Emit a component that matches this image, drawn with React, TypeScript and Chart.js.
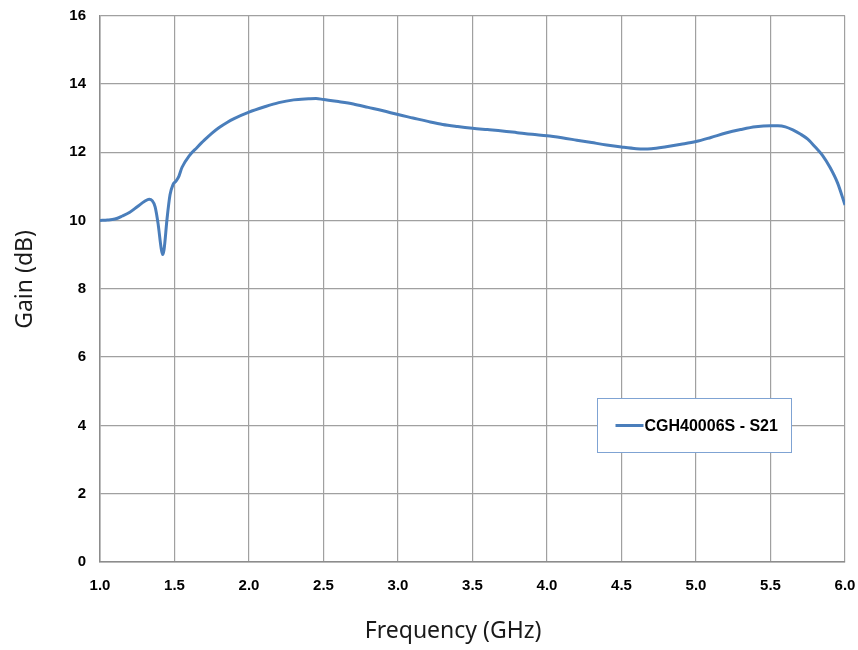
import React, { useEffect, useRef } from "react";
import { Chart, registerables } from "chart.js";

Chart.register(...registerables);

const frequencies = [
  1.0, 1.05, 1.1, 1.15, 1.2, 1.25, 1.3, 1.33, 1.35, 1.37, 1.39, 1.41, 1.42, 1.43, 1.45, 1.47, 1.49,
  1.51, 1.53, 1.55, 1.6, 1.65, 1.7, 1.75, 1.8, 1.85, 1.9, 2.0, 2.1, 2.2, 2.3, 2.4, 2.45, 2.5, 2.6,
  2.7, 2.8, 2.9, 3.0, 3.1, 3.2, 3.3, 3.4, 3.5, 3.6, 3.7, 3.8, 3.9, 4.0, 4.1, 4.2, 4.3, 4.4, 4.5,
  4.6, 4.65, 4.7, 4.8, 4.9, 5.0, 5.1, 5.2, 5.3, 5.4, 5.5, 5.55, 5.6, 5.65, 5.7, 5.75, 5.8, 5.85,
  5.9, 5.95, 6.0,
];

const gainS21 = [
  10.0, 10.01, 10.04, 10.13, 10.24, 10.4, 10.56, 10.62, 10.58, 10.4, 9.9, 9.2, 9.0, 9.15, 10.05,
  10.75, 11.05, 11.15, 11.3, 11.55, 11.9, 12.13, 12.35, 12.55, 12.72, 12.86, 12.98, 13.17, 13.32,
  13.45, 13.53, 13.56, 13.57, 13.54, 13.48, 13.41, 13.31, 13.21, 13.1, 13.0, 12.9, 12.81, 12.75,
  12.7, 12.66, 12.62, 12.57, 12.52, 12.48, 12.42, 12.35, 12.28, 12.21, 12.15, 12.1, 12.09, 12.1,
  12.16, 12.23, 12.31, 12.43, 12.56, 12.66, 12.74, 12.77, 12.77, 12.74, 12.65, 12.53, 12.38, 12.15,
  11.9, 11.55, 11.1, 10.45,
];

const seriesLabel = "CGH40006S - S21";
const xTitle = "Frequency (GHz)";
const yTitle = "Gain (dB)";
const xMin = 1.0;
const xMax = 6.0;
const xStep = 0.5;
const yMin = 0;
const yMax = 16;
const yStep = 2;

const LINE_COLOR = "#4a7ebb";

const overlayPlugin = {
  id: "overlay",
  afterDraw(chart: any) {
    const { ctx, chartArea: ca } = chart;
    ctx.save();
    // axis titles
    ctx.fillStyle = "#1a1a1a";
    ctx.font = "23px 'Noto Sans', 'Open Sans', sans-serif";
    ctx.textAlign = "center";
    ctx.textBaseline = "middle";
    ctx.fillText(xTitle, ca.left + ca.width * 0.474, ca.bottom + 69);
    ctx.translate(25, ca.top + ca.height * 0.483);
    ctx.rotate(-Math.PI / 2);
    ctx.fillText(yTitle, 0, 0);
    ctx.restore();

    // legend box
    ctx.save();
    const lx = Math.round(ca.left + ca.width * 0.667) + 0.5;
    const ly = Math.round(ca.top + ca.height * 0.7) + 0.5;
    const lw = 194;
    const lh = 54;
    ctx.fillStyle = "#ffffff";
    ctx.fillRect(lx, ly, lw, lh);
    ctx.strokeStyle = "#7fa3d3";
    ctx.lineWidth = 1;
    ctx.strokeRect(lx, ly, lw, lh);
    const cy = ly + lh / 2;
    ctx.strokeStyle = LINE_COLOR;
    ctx.lineWidth = 3;
    ctx.beginPath();
    ctx.moveTo(lx + 18, cy);
    ctx.lineTo(lx + 46, cy);
    ctx.stroke();
    ctx.fillStyle = "#000000";
    ctx.font = "bold 16px 'Liberation Sans', Arial, sans-serif";
    ctx.textAlign = "left";
    ctx.textBaseline = "middle";
    ctx.fillText(chart.data.datasets[0].label, lx + 47, cy + 1);
    ctx.restore();
  },
};

export default function App() {
  const canvasRef = useRef<HTMLCanvasElement | null>(null);

  useEffect(() => {
    const canvas = canvasRef.current;
    if (!canvas) return;
    const points = frequencies.map((f, i) => ({ x: f, y: gainS21[i] }));
    const chart = new Chart(canvas, {
      type: "line",
      data: {
        datasets: [
          {
            label: seriesLabel,
            data: points,
            borderColor: LINE_COLOR,
            borderWidth: 3,
            pointRadius: 0,
            fill: false,
            tension: 0.4,
            cubicInterpolationMode: "monotone",
          },
        ],
      },
      options: {
        animation: false,
        responsive: false,
        maintainAspectRatio: false,
        layout: { padding: { top: 15.5, right: 13, left: 0, bottom: 0 } },
        plugins: {
          legend: { display: false },
          tooltip: { enabled: false },
        },
        scales: {
          x: {
            type: "linear",
            min: xMin,
            max: xMax,
            afterFit: (scale: any) => {
              scale.height = 88;
              scale.paddingLeft = 0;
              scale.paddingRight = 0;
            },
            afterBuildTicks: (scale: any) => {
              const t = [];
              for (let v = xMin; v <= xMax + 1e-9; v += xStep) t.push({ value: Math.round(v * 10) / 10 });
              scale.ticks = t;
            },
            ticks: {
              padding: 15,
              color: "#000",
              font: { family: "'Liberation Sans', Arial, sans-serif", size: 15, weight: "bold" },
              maxRotation: 0,
              callback: (v: any) => Number(v).toFixed(1),
            },
            grid: { color: "#a0a0a0", lineWidth: 1.2, drawTicks: false },
            border: { color: "#8c8c8c", width: 1.5 },
          },
          y: {
            type: "linear",
            min: yMin,
            max: yMax,
            afterFit: (scale: any) => {
              scale.width = 100;
              scale.paddingTop = 0;
              scale.paddingBottom = 0;
            },
            ticks: {
              stepSize: yStep,
              padding: 14,
              color: "#000",
              font: { family: "'Liberation Sans', Arial, sans-serif", size: 15, weight: "bold" },
            },
            grid: { color: "#a0a0a0", lineWidth: 1.2, drawTicks: false },
            border: { color: "#8c8c8c", width: 1.5 },
          },
        },
      },
      plugins: [overlayPlugin],
    });
    return () => chart.destroy();
  }, []);

  return (
    <div style={{ position: "absolute", left: 0, top: 0, width: 858, height: 650, background: "#fff" }}>
      <canvas ref={canvasRef} width={858} height={650} style={{ width: 858, height: 650 }} />
    </div>
  );
}
